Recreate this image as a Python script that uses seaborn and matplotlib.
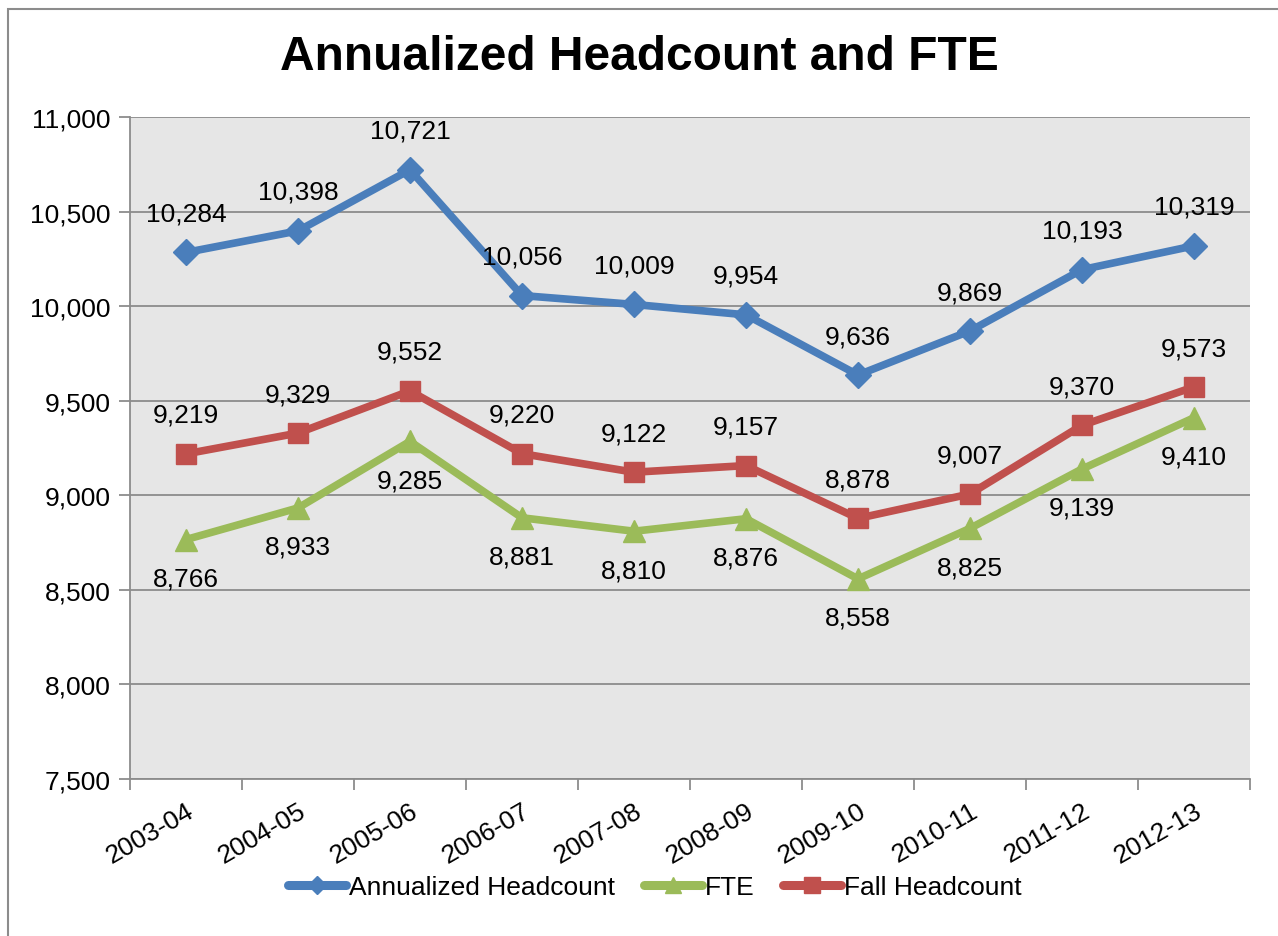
import numpy as np
import pandas as pd
import matplotlib
matplotlib.use('Agg')
import matplotlib.pyplot as plt
from matplotlib.lines import Line2D
from matplotlib.patches import Rectangle
import seaborn as sns

# ==========================================
# DADOS
# ==========================================

anos = ['2003-04', '2004-05', '2005-06', '2006-07', '2007-08',
        '2008-09', '2009-10', '2010-11', '2011-12', '2012-13']

annualized = [10284, 10398, 10721, 10056, 10009, 9954, 9636, 9869, 10193, 10319]
fte = [8766, 8933, 9285, 8881, 8810, 8876, 8558, 8825, 9139, 9410]
fall = [9219, 9329, 9552, 9220, 9122, 9157, 8878, 9007, 9370, 9573]

series_names = ['Annualized Headcount', 'FTE', 'Fall Headcount']
series_values = [annualized, fte, fall]
cores = {'Annualized Headcount': '#4A7EBB',
         'FTE': '#9BBB59',
         'Fall Headcount': '#C0504D'}
marcadores = {'Annualized Headcount': 'D',
              'FTE': '^',
              'Fall Headcount': 's'}
tam_marc = {'Annualized Headcount': 13,
            'FTE': 16,
            'Fall Headcount': 15}
# rotulo acima (+) ou abaixo (-)
lado_rotulo = {'Annualized Headcount': 1,
               'FTE': -1,
               'Fall Headcount': 1}

df = pd.DataFrame({
    'ano': anos * 3,
    'pos': list(range(len(anos))) * 3,
    'serie': np.repeat(series_names, len(anos)),
    'valor': annualized + fte + fall,
})

# ==========================================
# ESTILO
# ==========================================

sns.set_style('white')
plt.rcParams['font.family'] = ['Liberation Sans', 'DejaVu Sans']
plt.rcParams['text.color'] = 'black'
plt.rcParams['xtick.color'] = 'black'
plt.rcParams['ytick.color'] = 'black'

FS = 19

fig = plt.figure(figsize=(12.78, 9.37), dpi=100)
ax = fig.add_axes([130 / 1278, 1 - 780 / 937, 1120 / 1278, 662 / 937])
ax.set_facecolor('#E6E6E6')

# ==========================================
# LINHAS
# ==========================================

for nome in series_names:
    sub = df[df['serie'] == nome]
    sns.lineplot(
        data=sub, x='pos', y='valor',
        color=cores[nome], linewidth=5.5,
        marker=marcadores[nome], markersize=tam_marc[nome],
        markeredgecolor=cores[nome], markeredgewidth=1,
        solid_joinstyle='round',
        sort=False, legend=False, ax=ax, zorder=3
    )

# Rotulos de dados
for nome, valores in zip(series_names, series_values):
    for i, v in enumerate(valores):
        ax.annotate(
            f'{v:,}', xy=(i, v),
            xytext=(0, 28 * lado_rotulo[nome]),
            textcoords='offset points',
            ha='center', va='center', fontsize=FS, color='black',
            zorder=4
        )

# ==========================================
# EIXOS
# ==========================================

ax.set_ylim(7500, 11000)
ax.set_yticks(np.arange(7500, 11001, 500))
ax.set_yticklabels([f'{t:,}' for t in range(7500, 11001, 500)], fontsize=FS)
ax.yaxis.grid(True, color='#8C8C8C', linewidth=1.3)
ax.set_axisbelow(True)

ax.set_xlim(-0.5, len(anos) - 0.5)
ax.set_xticks(np.arange(-0.5, len(anos), 1))
ax.set_xticklabels([])
ax.set_xticks(np.arange(len(anos)), minor=True)
ax.set_xticklabels(anos, minor=True, fontsize=FS, rotation=30,
                   ha='right', rotation_mode='anchor')
ax.tick_params(axis='x', which='minor', length=0, pad=14)
ax.tick_params(axis='x', which='major', length=8, width=1.3,
               color='#8C8C8C', direction='out', bottom=True)
ax.tick_params(axis='y', length=8, width=1.3, color='#8C8C8C',
               direction='out', left=True, pad=6)
for lado in ['top', 'right']:
    ax.spines[lado].set_visible(False)
for lado in ['left', 'bottom']:
    ax.spines[lado].set_color('#8C8C8C')
    ax.spines[lado].set_linewidth(1.3)

ax.set_xlabel('')
ax.set_ylabel('')

fig.text(0.5, 1 - 58 / 937, 'Annualized Headcount and FTE',
         ha='center', va='center', fontsize=34.5, fontweight='bold',
         color='black')

# ==========================================
# LEGENDA
# ==========================================

handles = [Line2D([], [], color=cores[n], linewidth=6.5,
                  solid_capstyle='round',
                  marker=marcadores[n], markersize=tam_marc[n] - 4)
           for n in series_names]
fig.legend(handles, series_names, loc='center',
           bbox_to_anchor=(655 / 1278, 1 - 888 / 937), ncol=3,
           frameon=False, fontsize=FS, handlelength=2.2,
           handletextpad=0.1, columnspacing=1.1)

# Borda do grafico
borda = Rectangle((8 / 1278, -0.1), 1.2, 1.1 - 10 / 937,
                  transform=fig.transFigure, fill=False,
                  edgecolor='#8C8C8C', linewidth=1.5, clip_on=False)
fig.add_artist(borda)

plt.savefig('out.png', dpi=100)
